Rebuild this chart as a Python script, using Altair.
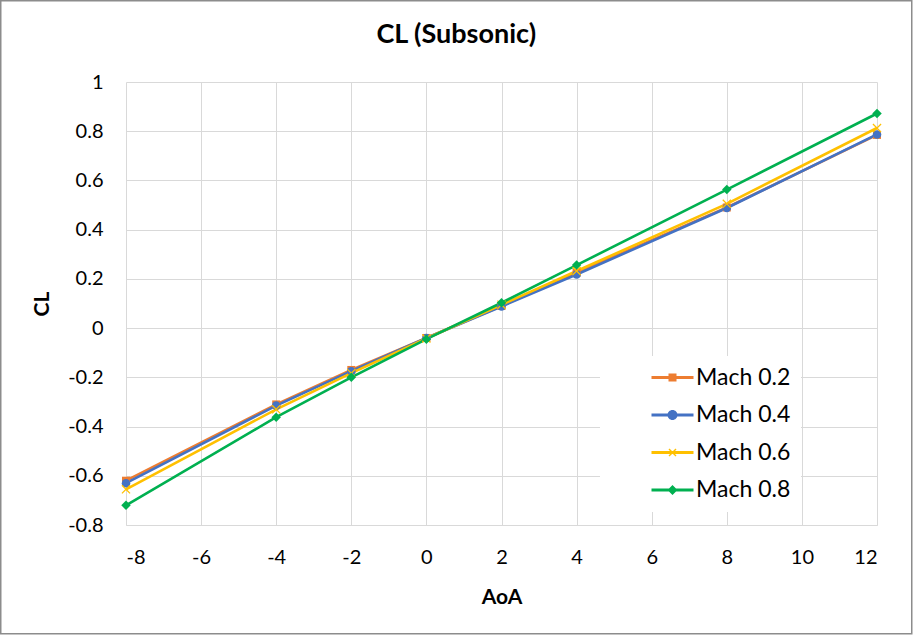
import altair as alt
import pandas as pd

# ---- data ----
aoa = [-8, -4, -2, 0, 2, 4, 8, 12]
series_names = ["Mach 0.2", "Mach 0.4", "Mach 0.6", "Mach 0.8"]
cl_m02 = [-0.62, -0.31, -0.17, -0.04, 0.09, 0.225, 0.49, 0.785]
cl_m04 = [-0.63, -0.315, -0.175, -0.04, 0.088, 0.218, 0.488, 0.787]
cl_m06 = [-0.655, -0.33, -0.183, -0.042, 0.095, 0.232, 0.505, 0.813]
cl_m08 = [-0.72, -0.362, -0.2, -0.045, 0.103, 0.256, 0.563, 0.872]
x_ticks = [-8, -6, -4, -2, 0, 2, 4, 6, 8, 10, 12]
y_ticks = [-0.8, -0.6, -0.4, -0.2, 0, 0.2, 0.4, 0.6, 0.8, 1]

colors = ["#ED7D31", "#4472C4", "#FFC000", "#00B050"]

rows = []
for name, vals in zip(series_names, [cl_m02, cl_m04, cl_m06, cl_m08]):
    for a, v in zip(aoa, vals):
        rows.append({"AoA": a, "CL": v, "series": name})
df = pd.DataFrame(rows)

# marker shapes in the plot
X_PATH = ("M-0.8,-1L1,0.8L0.8,1L-1,-0.8Z"
          "M0.8,-1L1,-0.8L-0.8,1L-1,0.8Z")
marker_shapes = ["square", "circle", X_PATH, "diamond"]

# legend symbols: line + marker
LINE = "M-4.2,-0.3L4.2,-0.3L4.2,0.3L-4.2,0.3Z"
legend_shapes = [
    LINE + "M-0.8,-0.8L0.8,-0.8L0.8,0.8L-0.8,0.8Z",
    LINE + "M1,0A1,1 0 1,1 -1,0A1,1 0 1,1 1,0Z",
    LINE + "M-0.6,-0.8L0.8,0.6L0.6,0.8L-0.8,-0.6ZM0.6,-0.8L0.8,-0.6L-0.6,0.8L-0.8,0.6Z",
    LINE + "M0,-1L1,0L0,1L-1,0Z",
]

FONT = "Lato"
HYPHEN_FMT = "replace(format(datum.value, '{fmt}'), '\u2212', '-')"

x_enc = alt.X("AoA:Q",
              scale=alt.Scale(domain=[-8, 12], nice=False),
              axis=alt.Axis(values=x_ticks, title="AoA", grid=True,
                            gridColor="#D9D9D9", gridWidth=1,
                            domain=True, domainColor="#D9D9D9", domainWidth=1,
                            ticks=False, labelPadding=22, labelFontSize=20,
                            labelFont=FONT, labelColor="#000000",
                            labelExpr=HYPHEN_FMT.format(fmt="d"),
                            titleFont=FONT, titleFontSize=21, titleFontWeight="bold",
                            titleColor="#000000", titlePadding=19))
y_enc = alt.Y("CL:Q",
              scale=alt.Scale(domain=[-0.8, 1], nice=False, zero=False),
              axis=alt.Axis(values=y_ticks, title="CL", grid=True,
                            gridColor="#D9D9D9", gridWidth=1,
                            domain=False, ticks=False, labelPadding=23,
                            labelFontSize=20, labelFont=FONT, labelColor="#000000",
                            labelExpr=HYPHEN_FMT.format(fmt=".1~f"),
                            titleFont=FONT, titleFontSize=21, titleFontWeight="bold",
                            titleColor="#000000", titlePadding=15))

color_scale = alt.Scale(domain=series_names, range=colors)

lines = alt.Chart(df).mark_line(strokeWidth=2.6).encode(
    x=x_enc, y=y_enc,
    color=alt.Color("series:N", scale=color_scale, legend=None),
    order=alt.Order("AoA:Q"),
)

points = alt.Chart(df).mark_point(filled=True, opacity=1).encode(
    x="AoA:Q", y="CL:Q",
    color=alt.Color("series:N", scale=color_scale, legend=None),
    shape=alt.Shape("series:N", scale=alt.Scale(domain=series_names, range=marker_shapes), legend=None),
    size=alt.Size("series:N", scale=alt.Scale(domain=series_names, range=[64, 90, 70, 70]), legend=None),
)

leg = alt.Legend(orient="none", legendX=474, legendY=274, title=None,
                 fillColor="#FFFFFF", padding=10, symbolSize=100,
                 symbolOffset=51, labelOffset=12, rowPadding=13.5,
                 labelFont=FONT, labelFontSize=23, labelColor="#000000",
                 symbolStrokeWidth=0, symbolOpacity=1,
                 labelExpr="datum.label + '" + "\u00a0" * 9 + "'")

legend_layer = alt.Chart(df).mark_point(filled=True, opacity=0).encode(
    x="AoA:Q", y="CL:Q",
    color=alt.Color("series:N", scale=alt.Scale(domain=series_names, range=colors), legend=leg),
    shape=alt.Shape("series:N", scale=alt.Scale(domain=series_names, range=legend_shapes), legend=leg),
)

border = alt.Chart(alt.Data(values=[{"b": 1}])).mark_rect(
    fill="transparent", stroke="#8C8C8C", strokeWidth=1.5
).encode(
    x=alt.value(-125.25), x2=alt.value(785.75),
    y=alt.value(-81.25), y2=alt.value(551.75),
)

chart = alt.layer(lines, points, legend_layer, border).resolve_scale(
    color="independent", shape="independent", size="independent"
).properties(
    width=751, height=443,
    title=alt.TitleParams("CL (Subsonic)", font=FONT, fontSize=27, fontWeight="bold",
                          color="#000000", anchor="middle", frame="bounds",
                          baseline="alphabetic", offset=0, dy=70),
    autosize=alt.AutoSizeParams(type="none"),
    padding={"left": 126, "top": 82, "right": 36, "bottom": 110},
    background="#FFFFFF",
).configure_view(stroke=None)

chart.save("out.html", embed_options={"renderer": "svg", "actions": False})
